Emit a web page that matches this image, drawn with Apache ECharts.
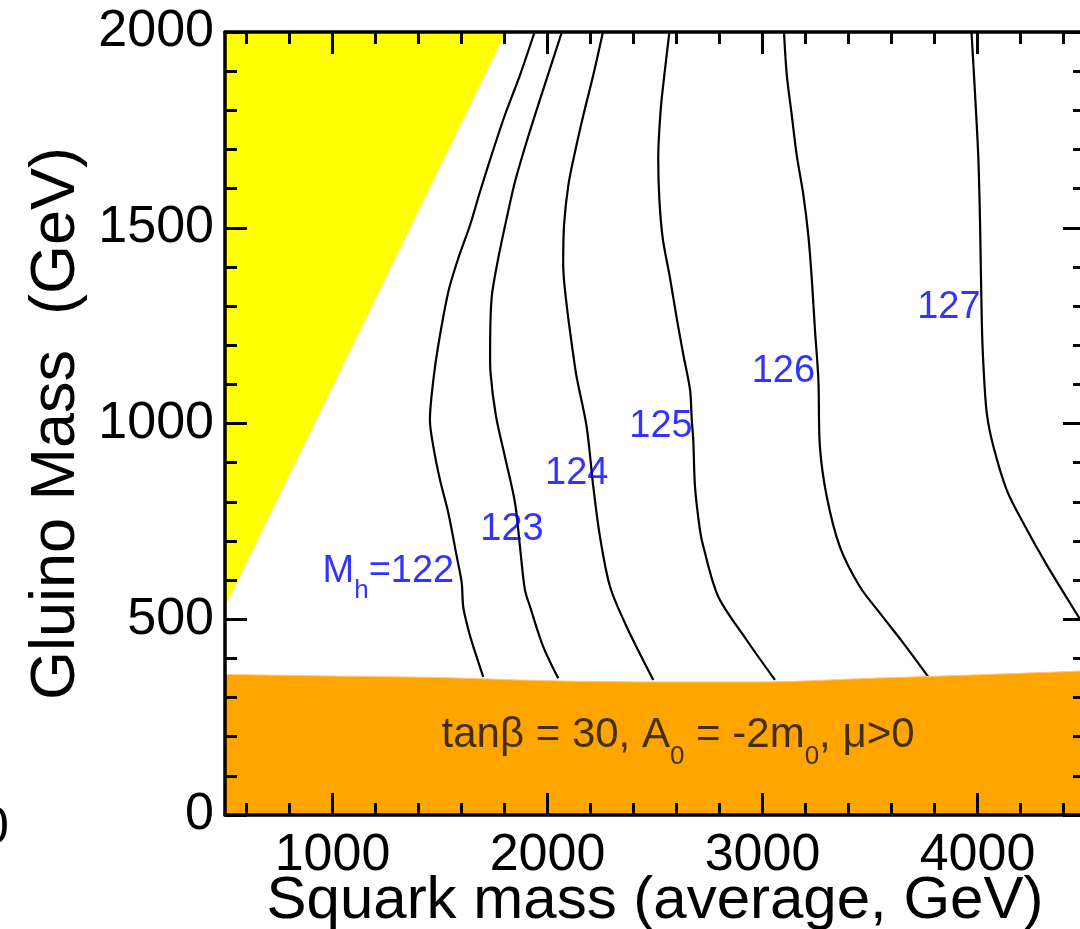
<!DOCTYPE html>
<html><head><meta charset="utf-8">
<script src="https://cdn.jsdelivr.net/npm/echarts@6/dist/echarts.min.js"></script>
<style>html,body{margin:0;padding:0;background:#fff}#c{width:1080px;height:929px}</style>
</head><body><div id="c"></div>
<script>
// ---- tick positions ----
const xMajorTicks = [1000, 2000, 3000, 4000];
const xMinorTicks = [600, 800, 1200, 1400, 1600, 1800, 2200, 2400, 2600, 2800, 3200, 3400, 3600, 3800, 4200, 4400];

// ---- excluded regions ----
const yellowEdge = [[500, 531], [1807, 2000]];
const orangeEdge = [[500, 359], [1000, 355], [1500, 351], [2000, 343], [2500, 340], [3000, 340], [3500, 349], [4000, 358], [4500, 368]];

// ---- Higgs mass contours (squark mass, gluino mass) ----
const mh122 = [[1940,2000],[1872,1890],[1802,1788],[1740,1686],[1686,1592],[1640,1507],[1585,1422],[1539,1337],[1492,1200],[1469,1111],[1453,1009],[1469,941],[1500,856],[1539,771],[1578,660],[1601,593],[1608,532],[1632,473],[1655,430],[1701,353]];
const mh123 = [[2067,2000],[2012,1907],[1957,1814],[1903,1720],[1849,1618],[1810,1524],[1771,1422],[1740,1320],[1733,1175],[1735,1130],[1760,1020],[1802,915],[1849,797],[1872,685],[1895,575],[1919,532],[1980,430],[2050,349]];
const mh124 = [[2258,2000],[2213,1890],[2167,1788],[2128,1694],[2097,1609],[2077,1507],[2073,1405],[2089,1303],[2120,1175],[2135,1120],[2182,992],[2213,839],[2244,711],[2291,583],[2368,481],[2492,345]];
const mh125 = [[2567,2000],[2547,1907],[2527,1805],[2515,1677],[2520,1575],[2536,1473],[2570,1371],[2601,1269],[2632,1175],[2663,1086],[2671,1009],[2678,958],[2686,839],[2709,728],[2725,685],[2794,558],[2926,447],[3058,345]];
const mh126 = [[3100,2000],[3113,1890],[3136,1788],[3159,1686],[3190,1584],[3213,1481],[3229,1371],[3244,1239],[3260,1111],[3267,941],[3299,813],[3360,685],[3453,583],[3547,515],[3655,439],[3771,353]];
const mh127 = [[3972,2000],[3988,1848],[4004,1677],[4012,1507],[4020,1260],[4027,1155],[4043,1027],[4074,941],[4136,830],[4213,746],[4322,639],[4469,507],[4500,480]];
const contours = [mh122, mh123, mh124, mh125, mh126, mh127];

// ---- contour labels ----
const contourLabelText = ['123', '124', '125', '126', '127'];
const contourLabelPos = [[1835, 728], [2136, 873], [2528, 992], [3097, 1134], [3867, 1296]];
const firstLabelPos = [1260, 621];
const paramTextPos = [2607, 204];

const FONT = "'Liberation Sans', Arial, sans-serif";
const plain = function (v) { return String(v); };

function xAxisDef(position, ticks, len, showLine, showLabels) {
  return {
    type: 'value', min: 500, max: 4500, position: position, z: 10,
    axisLine: { show: showLine, onZero: false, lineStyle: { color: '#000', width: 3.5 } },
    axisTick: { show: true, inside: true, length: len, customValues: ticks, lineStyle: { color: '#000', width: 3 } },
    axisLabel: showLabels ? { show: true, customValues: ticks, formatter: plain, fontSize: 52, fontFamily: FONT, color: '#000', margin: 15 } : { show: false },
    splitLine: { show: false }
  };
}
function yAxisDef(position, showLabels) {
  return {
    type: 'value', min: 0, max: 2000, interval: 500, position: position, z: 10,
    axisLine: { show: true, onZero: false, lineStyle: { color: '#000', width: 3.5 } },
    axisTick: { show: true, inside: true, length: 22, lineStyle: { color: '#000', width: 3 } },
    minorTick: { show: true, splitNumber: 5, length: 12, lineStyle: { color: '#000', width: 3 } },
    axisLabel: showLabels ? { show: true, formatter: plain, fontSize: 52, fontFamily: FONT, color: '#000', margin: 11 } : { show: false },
    splitLine: { show: false }, minorSplitLine: { show: false }
  };
}

const xAxes = [
  Object.assign(xAxisDef('bottom', xMajorTicks, 22, true, true), {
    name: 'Squark mass (average, GeV)', nameLocation: 'middle', nameGap: 56, nameMoveOverlap: false,
    nameTextStyle: { fontSize: 60, fontFamily: FONT, color: '#000' }
  }),
  xAxisDef('bottom', xMinorTicks, 12, false, false),
  xAxisDef('top', xMajorTicks, 22, true, false),
  xAxisDef('top', xMinorTicks, 12, false, false)
];
const yAxes = [
  Object.assign(yAxisDef('left', true), {
    name: 'Gluino Mass  (GeV)', nameLocation: 'middle', nameGap: 137, nameMoveOverlap: false,
    nameTextStyle: { fontSize: 63, fontFamily: FONT, color: '#000' }
  }),
  yAxisDef('right', false)
];

const series = [];
series.push({
  type: 'line', data: yellowEdge, showSymbol: false, silent: true, z: 1,
  lineStyle: { width: 0, color: '#ffff00' },
  areaStyle: { color: '#ffff00', opacity: 1, origin: 'end' }
});
contours.forEach(function (c) {
  series.push({
    type: 'line', data: c, showSymbol: false, silent: true, smooth: 0.3, z: 3,
    lineStyle: { width: 2.2, color: '#000' }
  });
});
series.push({
  type: 'line', data: orangeEdge, showSymbol: false, silent: true, smooth: 0.3, z: 4,
  lineStyle: { width: 1, color: '#ffc880' },
  areaStyle: { color: '#ffa500', opacity: 1, origin: 'start' }
});
series.push({
  type: 'scatter', symbolSize: 0, silent: true, z: 6,
  data: contourLabelText.map(function (t, i) { return { name: t, value: contourLabelPos[i] }; }),
  label: { show: true, position: 'inside', formatter: '{b}', fontSize: 38, fontFamily: FONT, color: '#0000ff' }
});
series.push({
  type: 'scatter', symbolSize: 0, silent: true, z: 6,
  data: [{ name: 'Mh', value: firstLabelPos }],
  label: {
    show: true, position: 'inside',
    formatter: '{m|M}{s|h}{m|=122}',
    rich: {
      m: { fontSize: 38, fontFamily: FONT, color: '#0000ff' },
      s: { fontSize: 26, fontFamily: FONT, color: '#0000ff', padding: [38, 0, 0, 0] }
    }
  }
});
series.push({
  type: 'scatter', symbolSize: 0, silent: true, z: 6,
  data: [{ name: 'param', value: paramTextPos }],
  label: {
    show: true, position: 'inside',
    formatter: '{m|tanβ = 30, A}{s|0}{m| = -2m}{s|0}{m|, μ>0}',
    rich: {
      m: { fontSize: 42, fontFamily: FONT, color: '#111' },
      s: { fontSize: 26, fontFamily: FONT, color: '#111', padding: [44, 0, 0, 0] }
    }
  }
});

const chart = echarts.init(document.getElementById('c'), null, { renderer: 'canvas' });
chart.setOption({
  animation: false,
  backgroundColor: '#fff',
  grid: { left: 225, top: 32, width: 860, height: 783, containLabel: false, outerBoundsMode: 'none' },
  xAxis: xAxes,
  yAxis: yAxes,
  series: series,
  graphic: [{ type: 'text', x: -20, y: 803, silent: true, style: { text: '0', font: '52px ' + FONT, fill: '#000' } }]
});
</script></body></html>
